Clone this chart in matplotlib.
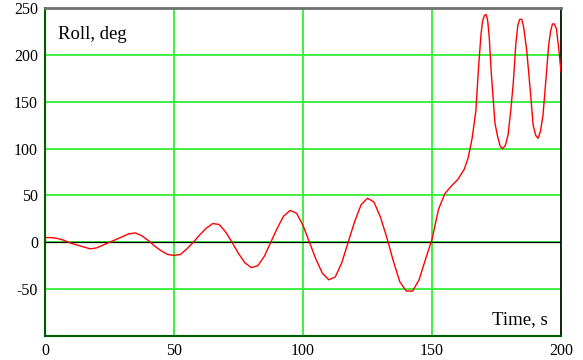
import matplotlib
matplotlib.use("Agg")
import matplotlib.pyplot as plt

# time (s) and roll angle (deg)
t = [0, 2.5, 5, 7.5, 10, 12.5, 15, 17.5, 20, 22.5, 25, 27.5, 30, 32.5, 35, 37.5,
     40, 42.5, 45, 47.5, 50, 52.5, 55, 57.5, 60, 62.5, 65, 67.5, 70, 72.5, 75,
     77.5, 80, 82.5, 85, 87.5, 90, 92.5, 95, 97.5, 100, 102.5, 105, 107.5, 110,
     112.5, 115, 117.5, 120, 122.5, 125, 127.5, 130, 132.5, 135, 137.5, 140,
     142.5, 145, 147.5, 150, 152.5, 155, 157.5, 160, 162.5, 164, 165.5, 167,
     168, 169, 169.6, 170.3, 171, 171.6, 172.2, 173, 174.4, 175.5, 176.5, 177.5,
     178.5, 179.5, 180.5, 181.5, 182.5, 183.3, 184, 184.8, 185.5, 186.7, 188,
     189.2, 190.2, 191.1, 192, 193, 194.2, 195.2, 196, 196.7, 197.4, 198.2,
     199, 200]
roll = [5, 5, 4, 2, -1, -3, -5, -7, -6, -3, 0, 3, 6, 9, 10, 7,
        2, -4, -9, -13, -14, -13, -7, 0, 8, 15, 20, 19, 11, 0, -12,
        -22, -27, -25, -15, 0, 15, 28, 34, 31, 18, 0, -18, -33, -40,
        -37, -22, 0, 22, 40, 47, 43, 27, 5, -20, -42, -52,
        -52, -40, -18, 3, 35, 52, 60, 67, 78, 90, 110, 140,
        185, 222, 236, 242, 243, 236, 218, 180, 127, 112, 102, 100,
        104, 115, 140, 170, 212, 232, 238, 238, 230, 205, 165,
        125, 114, 111, 118, 135, 175, 210, 226, 233, 233, 228,
        210, 182]

xticks = [0, 50, 100, 150, 200]
yticks = [-50, 0, 50, 100, 150, 200, 250]

plt.rcParams['font.family'] = ['Liberation Serif', 'DejaVu Serif']
plt.rcParams['axes.unicode_minus'] = False

fig = plt.figure(figsize=(5.83, 3.6), dpi=100)
ax = fig.add_axes([45 / 583, 24 / 360, 516 / 583, 328 / 360])

ax.set_xlim(0, 200)
ax.set_ylim(-100, 250)
ax.set_xticks(xticks)
ax.set_yticks(yticks)
ax.tick_params(length=0, labelsize=11.5, pad=5)
ax.grid(True, color='#33ee33', linewidth=1.3)
ax.set_axisbelow(True)

ax.axhline(0, color='black', linewidth=0.9, zorder=2)
ax.plot(t, roll, color='red', linewidth=1.0, zorder=3)

ax.spines['left'].set_color('#005a00')
ax.spines['bottom'].set_color('#005a00')
ax.spines['left'].set_linewidth(1.5)
ax.spines['bottom'].set_linewidth(1.5)
ax.spines['top'].set_color('#707070')
ax.spines['top'].set_linewidth(2)
ax.spines['right'].set_color('black')
ax.spines['right'].set_linewidth(1.2)

ax.text(0.025, 0.905, 'Roll, deg', transform=ax.transAxes, fontsize=13.5)
ax.text(0.975, 0.025, 'Time, s', transform=ax.transAxes, fontsize=13.5,
        ha='right', va='bottom')

fig.savefig('out.png', dpi=100)
